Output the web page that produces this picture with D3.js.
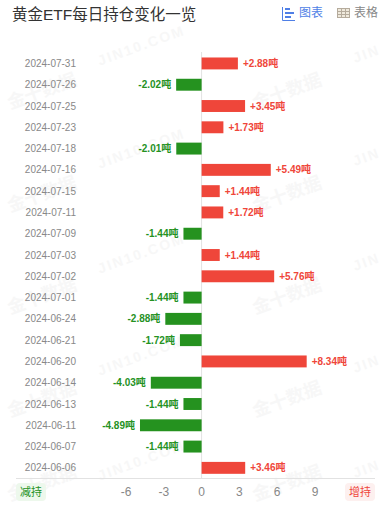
<!DOCTYPE html>
<html><head><meta charset="utf-8">
<script src="https://cdnjs.cloudflare.com/ajax/libs/d3/7.8.5/d3.min.js"></script>
<style>html,body{margin:0;padding:0;background:#fff}svg{display:block}text{font-family:"Liberation Sans","Noto Sans CJK SC",sans-serif}</style>
</head><body><svg id="c" width="383" height="508"></svg>
<script>
const dates=["2024-07-31","2024-07-26","2024-07-25","2024-07-23","2024-07-18","2024-07-16","2024-07-15","2024-07-11","2024-07-09","2024-07-03","2024-07-02","2024-07-01","2024-06-24","2024-06-21","2024-06-20","2024-06-14","2024-06-13","2024-06-11","2024-06-07","2024-06-06"];
const changes=[2.88,-2.02,3.45,1.73,-2.01,5.49,1.44,1.72,-1.44,1.44,5.76,-1.44,-2.88,-1.72,8.34,-4.03,-1.44,-4.89,-1.44,3.46];
const ticks=[-6,-3,0,3,6,9];
const title="黄金ETF每日持仓变化一览";
const wmCn="金十数据", wmEn="JIN10.COM", wmEnCut="JIN";
const wmCnRows=[90,193,295,398,482];
const wmEnRows=[45,148,253,355,460];
const red="#ef463a",green="#25921f";
const svg=d3.select("#c");
const x=d3.scaleLinear().domain([-6,9]).range([126,315]);
const y=d3.scaleBand().domain(dates).range([52.8,478.5]).paddingInner(0.44).paddingOuter(0.22);

// watermarks
const wm=svg.append("g").attr("font-weight","bold").attr("fill","#f7f7f7");
function mark(t,px,py,size,ls,anchor){
  wm.append("text").attr("transform",`translate(${px},${py}) rotate(-20)`).attr("text-anchor",anchor)
    .attr("font-size",size).attr("letter-spacing",ls).text(t);
}
wmCnRows.forEach(r=>{mark(wmCn,44,r+7,18,0,"middle");mark(wmCn,289,r+7,18,0,"middle");});
wmEnRows.forEach(r=>{mark(wmEn,143,r+5,14,2,"middle");mark(wmEnCut,355,r+18,14,2,"start");});

// header
svg.append("text").attr("x",12).attr("y",20).attr("font-size",15.5).attr("fill","#333").text(title);
const ic=svg.append("g").attr("fill","none").attr("stroke","#4f7fe6");
ic.append("path").attr("d","M282.5 7V20.5H295");
[[285,9,5],[285,13,9],[285,17,6]].forEach(b=>ic.append("line").attr("x1",b[0]).attr("x2",b[0]+b[2]).attr("y1",b[1]).attr("y2",b[1]).attr("stroke-width",2));
svg.append("text").attr("x",299).attr("y",17).attr("font-size",12).attr("fill","#4f7fe6").text("图表");
const tb=svg.append("g").attr("fill","none").attr("stroke","#b5ab9c");
tb.append("rect").attr("x",337.5).attr("y",8.5).attr("width",12).attr("height",9).attr("fill","#efe9dc");
[341.5,345.5].forEach(v=>tb.append("line").attr("x1",v).attr("x2",v).attr("y1",8.5).attr("y2",17.5));
[11.5,14.5].forEach(v=>tb.append("line").attr("x1",337.5).attr("x2",349.5).attr("y1",v).attr("y2",v));
svg.append("text").attr("x",354).attr("y",17).attr("font-size",12).attr("fill","#888").text("表格");

// axes lines
svg.append("line").attr("x1",x(0)).attr("x2",x(0)).attr("y1",52).attr("y2",478).attr("stroke","#e2e2e2");
svg.append("line").attr("x1",16).attr("x2",375).attr("y1",478.5).attr("y2",478.5).attr("stroke","#e2e2e2");

// rows
dates.forEach((d,i)=>{
  const v=changes[i],cy=y(d)+y.bandwidth()/2;
  svg.append("text").attr("x",76).attr("y",cy+3.5).attr("text-anchor","end").attr("font-size",10).attr("fill","#888").text(d);
  svg.append("rect").attr("x",Math.min(x(0),x(v))).attr("y",y(d)).attr("width",Math.abs(x(v)-x(0))).attr("height",y.bandwidth()).attr("fill",v>0?red:green);
  svg.append("text").attr("x",x(v)+(v>0?5:-5)).attr("y",cy+3.5).attr("text-anchor",v>0?"start":"end")
    .attr("font-size",10).attr("font-weight","bold").attr("fill",v>0?red:green).text((v>0?"+":"")+v.toFixed(2)+"吨");
});

// ticks
ticks.forEach(t=>svg.append("text").attr("x",x(t)).attr("y",496).attr("text-anchor","middle").attr("font-size",12).attr("fill","#888").text(t));

// badges
svg.append("rect").attr("x",16).attr("y",483).attr("width",30).attr("height",18).attr("rx",4).attr("fill","#edf8ec");
svg.append("text").attr("x",31).attr("y",496).attr("text-anchor","middle").attr("font-size",11).attr("fill",green).text("减持");
svg.append("rect").attr("x",345).attr("y",483).attr("width",30).attr("height",18).attr("rx",4).attr("fill","#fdf0ef");
svg.append("text").attr("x",360).attr("y",496).attr("text-anchor","middle").attr("font-size",11).attr("fill",red).text("增持");
</script></body></html>
